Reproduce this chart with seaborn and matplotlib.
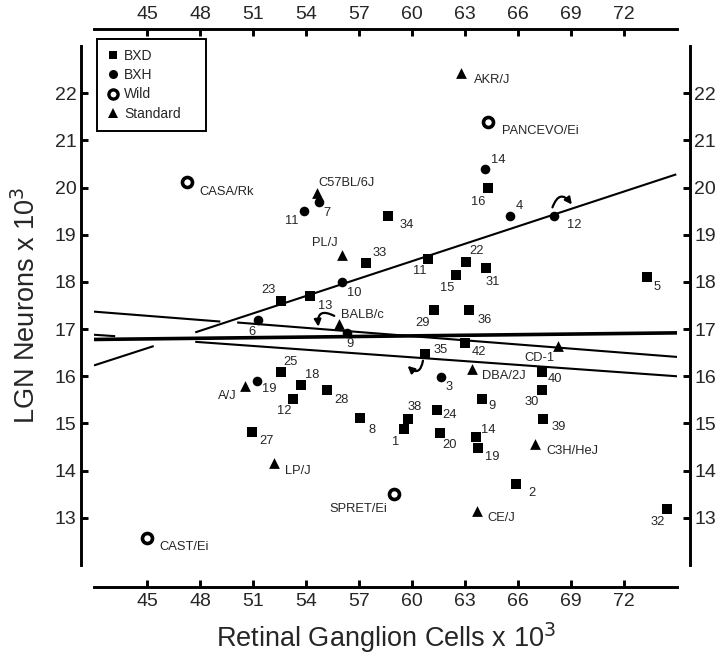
import numpy as np
import pandas as pd
import matplotlib
matplotlib.use("Agg")
import matplotlib.pyplot as plt
import seaborn as sns
from matplotlib.lines import Line2D

# ---------------- data ----------------
bxd_ids = ['1', '2', '5', '8', '9', '11', '12', '13', '14', '15', '16', '18', '19', '20', '22', '23',
           '24', '25', '27', '28', '29', '30', '31', '32', '33', '34', '35', '36', '38', '39', '40', '42']
bxd_x = [59.53, 65.90, 73.30, 57.05, 63.98, 60.90, 53.28, 54.23, 63.62, 62.50, 64.31, 53.72, 63.75, 61.61, 63.05, 52.59,
         61.41, 52.59, 50.93, 55.17, 61.22, 67.35, 64.18, 74.46, 57.39, 58.63, 60.71, 63.24, 59.78, 67.43, 67.35, 63.02]
bxd_y = [14.88, 13.72, 18.10, 15.11, 15.51, 18.49, 15.52, 17.71, 14.72, 18.15, 19.99, 15.81, 14.48, 14.80, 18.42, 17.60,
         15.28, 16.09, 14.81, 15.70, 17.40, 15.70, 18.29, 13.18, 18.41, 19.40, 16.48, 17.40, 15.10, 15.10, 16.09, 16.70]
bxd_off = [(-8, -13), (16, -9), (10, -10), (12, -12), (10, -7), (-8, -12), (-9, -12), (15, -10), (12, 7), (-9, -13),
           (-10, -14), (11, 10), (14, -9), (9, -12), (11, 11), (-13, 11),
           (13, -5), (9, 10), (15, -9), (15, -10), (-11, -13), (-10, -12), (7, -14), (-10, -13), (14, 10), (19, -9),
           (16, 4), (15, -10), (7, 12), (15, -8), (13, -7), (14, -9)]

bxh_ids = ['3', '4', '6', '7', '9', '10', '11', '12', '14', '19']
bxh_x = [61.65, 65.57, 51.31, 54.73, 56.30, 56.02, 53.90, 68.04, 64.16, 51.21]
bxh_y = [15.99, 19.40, 17.19, 19.70, 16.91, 18.00, 19.51, 19.40, 20.40, 15.89]
bxh_off = [(8, -10), (9, 10), (-7, -12), (8, -11), (3, -11), (13, -11), (-12, -10), (20, -9), (13, 9), (13, -8)]

wild_ids = ['CASA/Rk', 'PANCEVO/Ei', 'SPRET/Ei', 'CAST/Ei']
wild_x = [47.26, 64.31, 59.00, 45.00]
wild_y = [20.11, 21.38, 13.50, 12.58]
wild_off = [(40, -10), (52, -9), (-36, -15), (37, -9)]

std_ids = ['AKR/J', 'C57BL/6J', 'PL/J', 'BALB/c', 'A/J', 'LP/J', 'DBA/2J', 'CD-1', 'C3H/HeJ', 'CE/J']
std_x = [62.77, 54.60, 56.02, 55.86, 50.55, 52.19, 63.39, 68.25, 66.94, 63.66]
std_y = [22.42, 19.89, 18.57, 17.11, 15.79, 14.16, 16.16, 16.65, 14.56, 13.15]
std_off = [(31, -7), (30, 10), (-17, 12), (24, 9), (-18, -10), (24, -8), (32, -7), (-18, -12), (38, -7), (25, -7)]

# regression lines (segments)
thick_x = [42.0, 75.0]
thick_y = [16.78, 16.92]
up_x = [[42.0, 45.38], [47.73, 74.96]]
up_y = [[16.23, 16.64], [16.93, 20.28]]
lineA_x = [[42.0, 49.15], [50.1, 75.0]]
lineA_y = [[17.37, 17.16], [17.14, 16.41]]
lineB_x = [[42.0, 43.2], [47.73, 75.0]]
lineB_y = [[16.88, 16.85], [16.73, 16.00]]

# curved arrows: (start, end, rad)
arrows = [((67.95, 19.58), (69.05, 19.64), -0.9),
          ((55.60, 17.28), (54.70, 17.05), 0.9),
          ((60.62, 16.33), (59.75, 16.22), -0.9)]

xticks = [45, 48, 51, 54, 57, 60, 63, 66, 69, 72]
yticks = [13, 14, 15, 16, 17, 18, 19, 20, 21, 22]

# ---------------- style ----------------
sns.set_style("ticks")
plt.rcParams['font.family'] = ['Liberation Sans', 'DejaVu Sans']

fig = plt.figure(figsize=(7.2, 6.61), dpi=100)
W, H = 720, 661
PT = 0.72  # points per pixel at dpi 100
ax = fig.add_axes([94 / W, 1 - 565 / H, (677 - 94) / W, (565 - 46) / H])
ax.set_xlim(42, 75)
ax.set_ylim(12, 23)

# lines
ax.plot(thick_x, thick_y, color='black', lw=2.6, solid_capstyle='butt', zorder=2)
for xs, ys in zip(up_x + lineA_x + lineB_x, up_y + lineA_y + lineB_y):
    ax.plot(xs, ys, color='black', lw=1.5, solid_capstyle='butt', zorder=2)

# points
df_bxd = pd.DataFrame({'x': bxd_x, 'y': bxd_y})
df_bxh = pd.DataFrame({'x': bxh_x, 'y': bxh_y})
df_wild = pd.DataFrame({'x': wild_x, 'y': wild_y})
df_std = pd.DataFrame({'x': std_x, 'y': std_y})

sns.scatterplot(data=df_bxd, x='x', y='y', marker='s', s=46, color='black', linewidth=0, ax=ax, zorder=3)
sns.scatterplot(data=df_bxh, x='x', y='y', marker='o', s=48, color='black', linewidth=0, ax=ax, zorder=3)
sns.scatterplot(data=df_std, x='x', y='y', marker='^', s=60, color='black', linewidth=0, ax=ax, zorder=3)
sns.scatterplot(data=df_wild, x='x', y='y', marker='o', s=52, facecolor='white', edgecolor='black',
                linewidth=2.6, ax=ax, zorder=3)

# point labels
for ids, xs, ys, offs in [(bxd_ids, bxd_x, bxd_y, bxd_off), (bxh_ids, bxh_x, bxh_y, bxh_off),
                          (wild_ids, wild_x, wild_y, wild_off), (std_ids, std_x, std_y, std_off)]:
    for t, x, y, o in zip(ids, xs, ys, offs):
        ax.annotate(t, (x, y), xytext=o, textcoords='offset pixels', ha='center', va='center',
                    fontsize=9.3, zorder=4)

# curved arrows
for (s, e, rad) in arrows:
    ax.annotate('', xy=e, xytext=s,
                arrowprops=dict(arrowstyle='-|>', connectionstyle=f'arc3,rad={rad}', lw=1.6,
                                color='black', mutation_scale=10, shrinkA=0, shrinkB=0), zorder=4)

# axes styling
ax.set_xticks(xticks)
ax.set_yticks(yticks)
for side in ['left', 'right', 'top', 'bottom']:
    ax.spines[side].set_visible(True)
    ax.spines[side].set_linewidth(2.1)
    ax.spines[side].set_color('black')
ax.spines['left'].set_position(('outward', 13.3 * PT))
ax.spines['right'].set_position(('outward', 13 * PT))
ax.spines['top'].set_position(('outward', 17 * PT))
ax.spines['bottom'].set_position(('outward', 22 * PT))

ax.tick_params(axis='x', top=True, bottom=True, labeltop=True, labelbottom=True, direction='in',
               length=7 * PT, width=2.1, labelsize=14, pad=4, color='black')
ax.tick_params(axis='y', left=True, right=True, labelleft=True, labelright=True, direction='in',
               length=7 * PT, width=2.1, labelsize=14, pad=3, color='black')

ax.set_xlabel('Retinal Ganglion Cells x 10$^3$', fontsize=19.5)
ax.set_ylabel('LGN Neurons x 10$^3$', fontsize=19.5)
ax.xaxis.set_label_coords(0.5, -(638 - 565) / 519)
ax.xaxis.label.set_va('center')
ax.yaxis.set_label_coords((27 - 94) / 583, 0.5)
ax.yaxis.label.set_va('center')

# legend
handles = [
    Line2D([], [], marker='s', ls='', color='black', markersize=6.2, markeredgewidth=0),
    Line2D([], [], marker='o', ls='', color='black', markersize=6.5, markeredgewidth=0),
    Line2D([], [], marker='o', ls='', markerfacecolor='white', markeredgecolor='black',
           markersize=6.6, markeredgewidth=2.4),
    Line2D([], [], marker='^', ls='', color='black', markersize=7.5, markeredgewidth=0),
]
leg_top, leg_h, leg_w = 38.5, 90, 109
leg = ax.legend(handles, ['BXD', 'BXH', 'Wild', 'Standard'], loc='upper left', mode='expand',
                bbox_to_anchor=(97 / W, 1 - (leg_top + leg_h) / H, leg_w / W, leg_h / H),
                bbox_transform=fig.transFigure,
                frameon=True, fancybox=False, framealpha=1, edgecolor='black', fontsize=10,
                handlelength=0.8, handletextpad=0.4, labelspacing=0.38, borderpad=0.75,
                borderaxespad=0)
leg.get_frame().set_linewidth(1.4)

fig.savefig('out.png', dpi=100)
